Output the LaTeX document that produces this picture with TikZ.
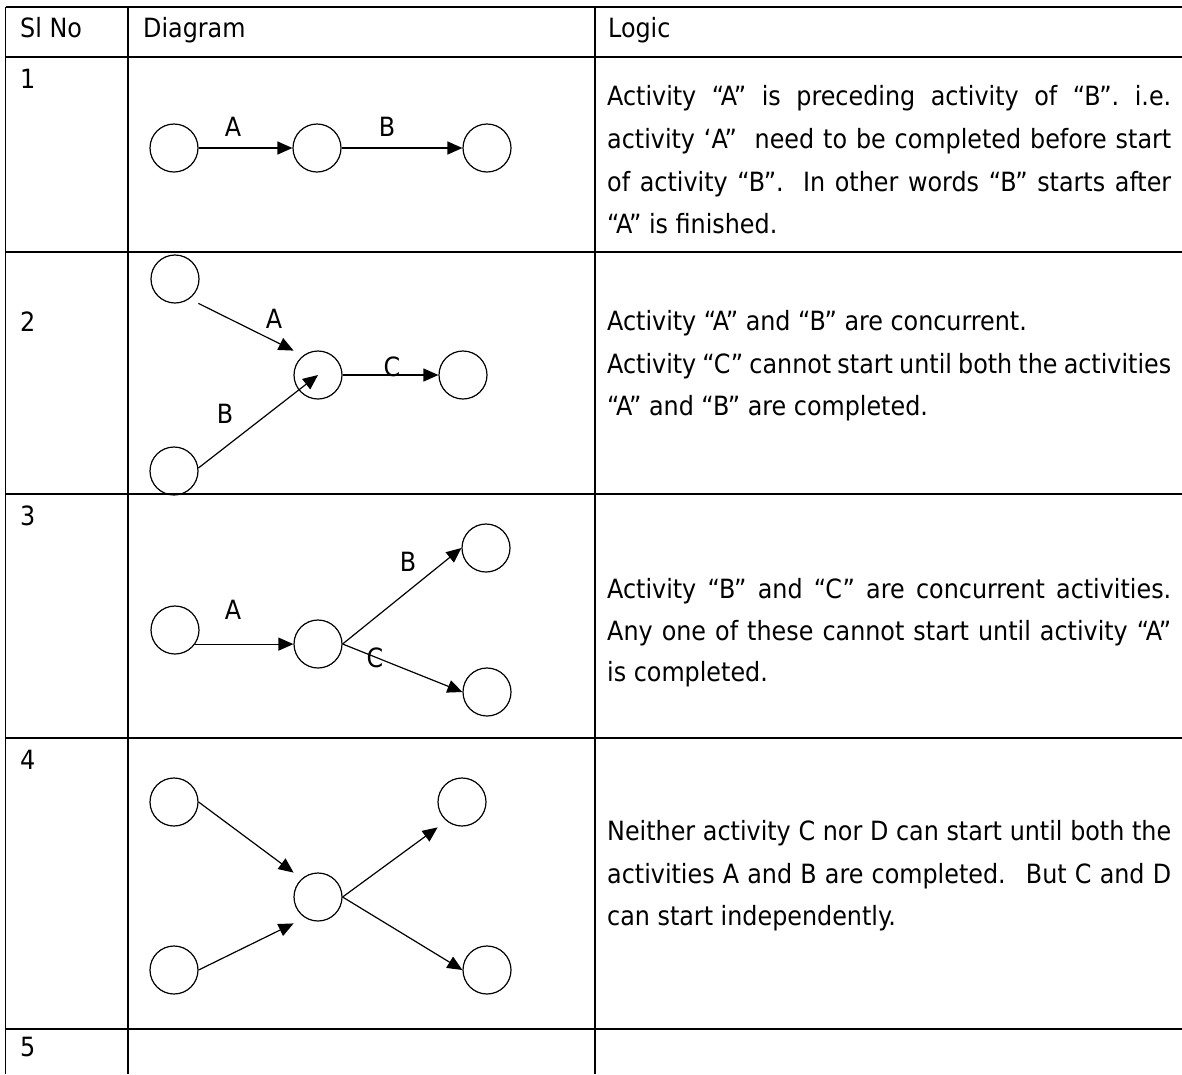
\documentclass[tikz,border=0pt]{standalone}
\usepackage{fontspec}
\setmainfont{DejaVu Sans Condensed}
\usetikzlibrary{arrows.meta}
\begin{document}
\begin{tikzpicture}[x=1pt,y=-1pt,
  grid/.style={line width=1.5pt},
  ev/.style={circle,draw,line width=1.2pt,minimum size=48pt,inner sep=0pt},
  act/.style={line width=1.2pt,-{Triangle[length=15pt,width=13pt]}},
  lbl/.style={inner sep=0pt,font=\fontsize{26.5}{31}\selectfont},
  txt/.style={anchor=base west,inner sep=0pt,font=\fontsize{26.5}{31}\selectfont}]
\useasboundingbox (0,0) rectangle (1182,1074);
% table grid
\draw[grid] (5.5,7) -- (1182,7);
\foreach \yy in {57,252,494,738,1029} \draw[grid] (5.5,\yy) -- (1182,\yy);
\foreach \xx in {5.5,128,595} \draw[grid] (\xx,7) -- (\xx,1074);
% header
\node[txt] (h1) at (20,37) {Sl No};
\node[txt] (h2) at (143,37) {Diagram};
\node[txt] (h3) at (608,37) {Logic};
% row numbers
\node[txt] (n1) at (20,88) {1};
\node[txt] (n2) at (20,331) {2};
\node[txt] (n3) at (20,525) {3};
\node[txt] (n4) at (20,769) {4};
\node[txt] (n5) at (20,1056) {5};
% row 1 diagram
\node[ev] (r1a) at (174,148) {};
\node[ev] (r1b) at (317,148) {};
\node[ev] (r1c) at (487,148) {};
\draw[act] (r1a.east) -- (r1b.west);
\draw[act] (r1b.east) -- (r1c.west);
\node[lbl] (l1a) at (233,127) {A};
\node[lbl] (l1b) at (387,127) {B};
% row 2 diagram
\node[ev] (r2a) at (175,279) {};
\node[ev] (r2b) at (174,471) {};
\node[ev] (r2m) at (318,375) {};
\node[ev] (r2c) at (463,375) {};
\draw[act] ([xshift=6pt,yshift=-7pt]r2a.-45) -- ([xshift=-7pt,yshift=7pt]r2m.135);
\draw[act] (r2b.7) -- (r2m.center);
\draw[act] (r2m.east) -- (r2c.west);
\node[lbl] (l2a) at (274,319) {A};
\node[lbl] (l2b) at (225,414) {B};
\node[lbl] (l2c) at (392,367) {C};
% row 3 diagram
\node[ev] (r3a) at (175,630) {};
\node[ev] (r3m) at (318,644) {};
\node[ev] (r3b) at (486,548) {};
\node[ev] (r3c) at (487,692) {};
\draw[act] (r3a.-35) -- (r3a.-35 -| r3m.west);
\draw[act] (r3m.east) -- (r3b.west);
\draw[act] (r3m.east) -- (r3c.west);
\node[lbl] (l3a) at (233,610) {A};
\node[lbl] (l3b) at (408,562) {B};
\node[lbl] (l3c) at (375,658) {C};
% row 4 diagram
\node[ev] (r4a) at (174,802) {};
\node[ev] (r4b) at (174,970) {};
\node[ev] (r4m) at (318,897) {};
\node[ev] (r4c) at (462,802) {};
\node[ev] (r4d) at (487,970) {};
\draw[act] (r4a.east) -- ([xshift=-7pt,yshift=7pt]r4m.135);
\draw[act] (r4b.east) -- ([xshift=-7pt,yshift=-9pt]r4m.-135);
\draw[act] (r4m.east) -- ([xshift=-7pt,yshift=-8pt]r4c.-135);
\draw[act] (r4m.east) -- (r4d.west);
% logic texts
\node[txt] (t11) at (607,105) {\makebox[564pt][s]{Activity “A” is preceding activity of “B”. i.e.}};
\node[txt] (t12) at (607,148) {\makebox[564pt][s]{activity ‘A”~ need to be completed before start}};
\node[txt] (t13) at (607,191) {\makebox[564pt][s]{of activity “B”.~ In other words “B” starts after}};
\node[txt] (t14) at (607,233) {“A” is finished.};
\node[txt] (t21) at (607,330) {Activity “A” and “B” are concurrent.};
\node[txt] (t22) at (607,373) {\makebox[564pt][s]{Activity “C” cannot start until both the activities}};
\node[txt] (t23) at (607,415) {“A” and “B” are completed.};
\node[txt] (t31) at (607,598) {\makebox[564pt][s]{Activity “B” and “C” are concurrent activities.}};
\node[txt] (t32) at (607,640) {\makebox[564pt][s]{Any one of these cannot start until activity “A”}};
\node[txt] (t33) at (607,681) {is completed.};
\node[txt] (t41) at (607,840) {\makebox[564pt][s]{Neither activity C nor D can start until both the}};
\node[txt] (t42) at (607,883) {\makebox[564pt][s]{activities A and B are completed.~ But C and D}};
\node[txt] (t43) at (607,925) {can start independently.};
\end{tikzpicture}
\end{document}
